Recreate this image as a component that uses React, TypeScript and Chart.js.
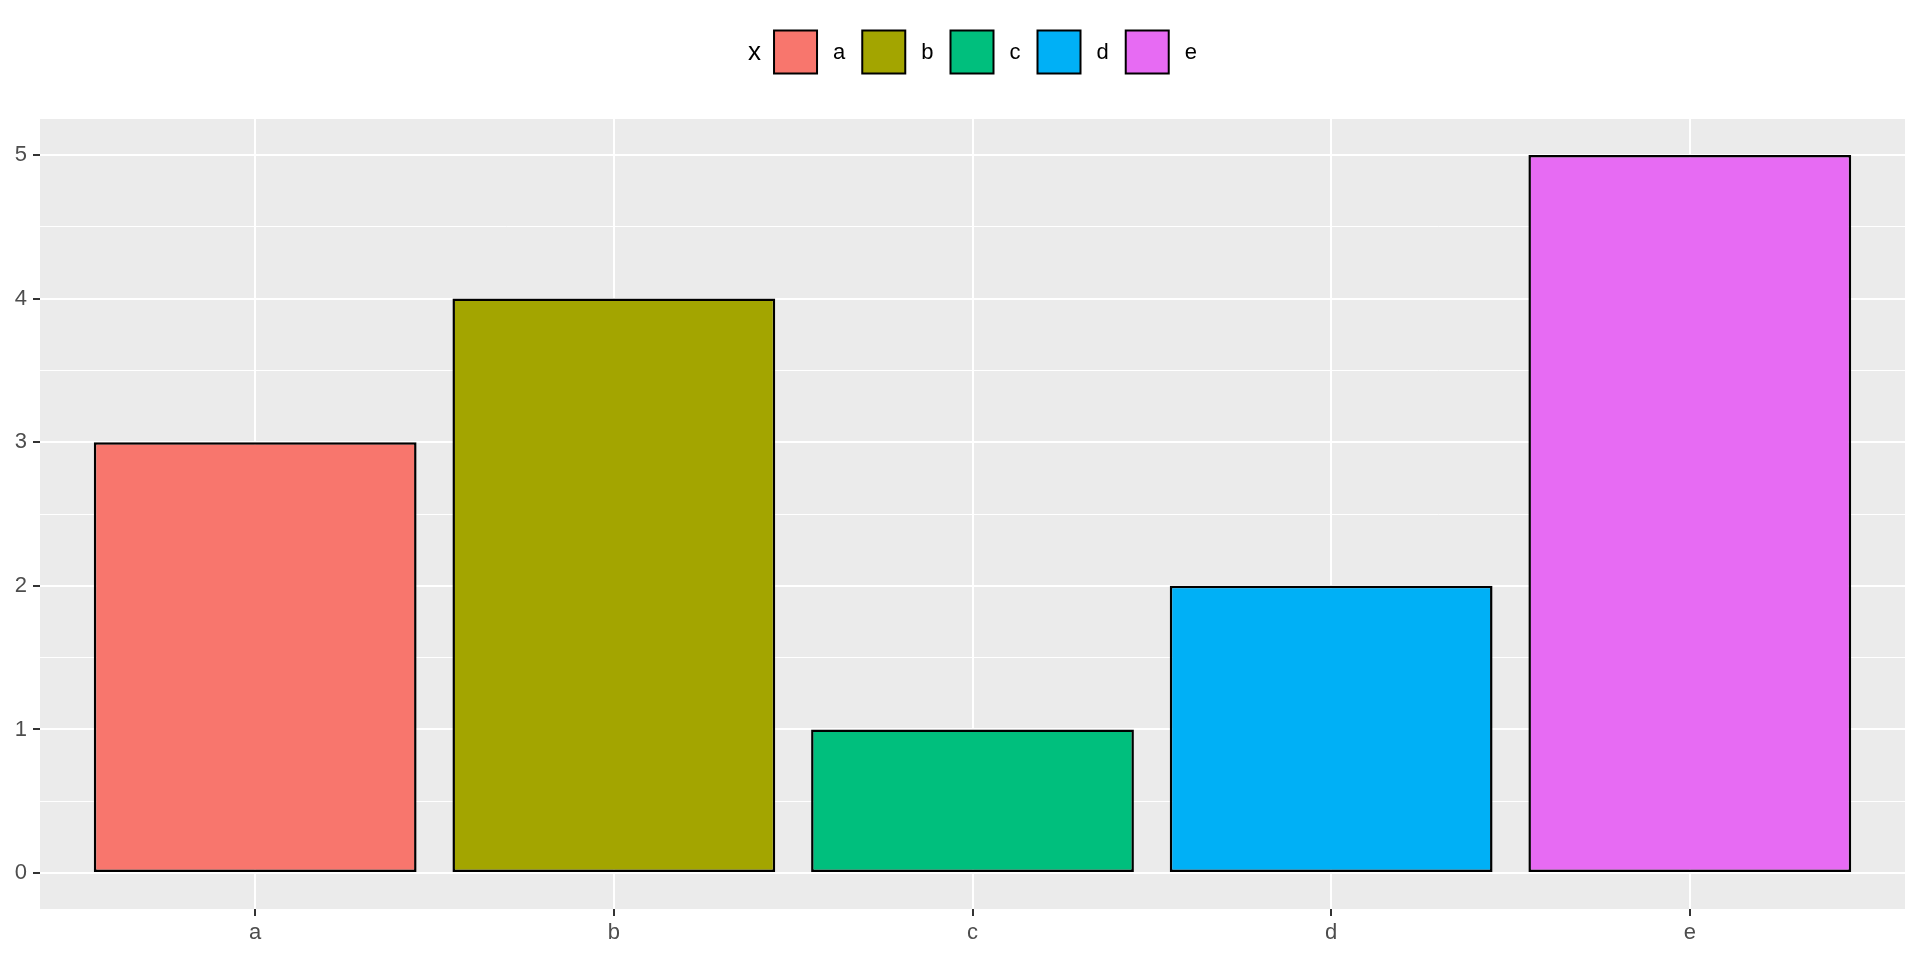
import React, { useEffect, useRef } from "react";
import { Chart, registerables } from "chart.js";

Chart.register(...registerables);

const categories = ["a", "b", "c", "d", "e"];
const values = [3, 4, 1, 2, 5];
const barColors = ["#F8766D", "#A3A500", "#00BF7D", "#00B0F6", "#E76BF3"];
const xTickPositions = [1, 2, 3, 4, 5];
const yMajorTicks = [0, 1, 2, 3, 4, 5];
const yMinorTicks = [0.5, 1.5, 2.5, 3.5, 4.5];
const legendTitle = "x";

const FONT = "'Liberation Sans', Arial, sans-serif";

const panelBg = {
  id: "panelBg",
  beforeDraw(chart: any) {
    const { ctx, chartArea } = chart;
    ctx.save();
    ctx.fillStyle = "#EBEBEB";
    ctx.fillRect(chartArea.left, chartArea.top, chartArea.right - chartArea.left, chartArea.bottom - chartArea.top);
    ctx.restore();
  },
};

const ggLegend = {
  id: "ggLegend",
  afterDraw(chart: any) {
    const { ctx, chartArea } = chart;
    const ds = chart.data.datasets[0];
    const labels = chart.data.labels as string[];
    const box = 43;
    const gapTitle = 13;
    const gapLabel = 16;
    const gapItem = 17;
    ctx.save();
    ctx.font = `26px ${FONT}`;
    const titleW = ctx.measureText(legendTitle).width;
    ctx.font = `22px ${FONT}`;
    const labelWs = labels.map((l) => ctx.measureText(l).width);
    let total = titleW + gapTitle;
    labelWs.forEach((w, i) => {
      total += box + gapLabel + w + (i < labelWs.length - 1 ? gapItem : 0);
    });
    const cx = (chartArea.left + chartArea.right) / 2;
    let x = cx - total / 2;
    const cy = 52;
    ctx.textBaseline = "middle";
    ctx.textAlign = "left";
    ctx.fillStyle = "#000000";
    ctx.font = `26px ${FONT}`;
    ctx.fillText(legendTitle, x, cy + 1);
    x += titleW + gapTitle;
    ctx.font = `22px ${FONT}`;
    labels.forEach((l, i) => {
      ctx.fillStyle = ds.backgroundColor[i];
      ctx.fillRect(x, cy - box / 2, box, box);
      ctx.strokeStyle = "#000000";
      ctx.lineWidth = 2;
      ctx.strokeRect(x, cy - box / 2, box, box);
      x += box + gapLabel;
      ctx.fillStyle = "#000000";
      ctx.fillText(l, x, cy + 1);
      x += labelWs[i] + gapItem;
    });
    ctx.restore();
  },
};

export default function App() {
  const ref = useRef<HTMLCanvasElement | null>(null);
  useEffect(() => {
    if (!ref.current) return;
    const chart = new Chart(ref.current, {
      type: "bar",
      data: {
        labels: categories,
        datasets: [
          {
            label: legendTitle,
            data: values.map((v, i) => ({ x: xTickPositions[i], y: v })) as any,
            backgroundColor: barColors,
            borderColor: "#000000",
            borderWidth: 2.5,
            borderSkipped: false,
            categoryPercentage: 1,
            barPercentage: 0.9,
          },
        ],
      },
      options: {
        animation: false,
        responsive: false,
        maintainAspectRatio: false,
        layout: { padding: { top: 119, right: 15, left: 0, bottom: 0 } },
        plugins: { legend: { display: false }, tooltip: { enabled: false } },
        scales: {
          x: {
            type: "linear",
            offset: false,
            min: 0.4,
            max: 5.6,
            afterBuildTicks: (scale: any) => {
              scale.ticks = xTickPositions.map((v) => ({ value: v }));
            },
            afterFit: (scale: any) => {
              scale.height = 51;
            },
            ticks: {
              autoSkip: false,
              maxRotation: 0,
              padding: 4,
              color: "#4D4D4D",
              font: { family: FONT, size: 22 },
              callback: (v: any) => categories[Math.round(v) - 1] ?? "",
            },
            grid: {
              offset: false,
              color: "#FFFFFF",
              lineWidth: 2,
              tickColor: "#333333",
              tickLength: 7,
              tickWidth: 2,
            },
            border: { display: false },
          },
          y: {
            type: "linear",
            min: -0.25,
            max: 5.25,
            afterBuildTicks: (scale: any) => {
              scale.ticks = [...yMajorTicks, ...yMinorTicks]
                .sort((a, b) => a - b)
                .map((v) => ({ value: v }));
            },
            afterFit: (scale: any) => {
              scale.width = 40;
            },
            ticks: {
              autoSkip: false,
              padding: 6,
              color: "#4D4D4D",
              font: { family: FONT, size: 22 },
              callback: (v: any) => (yMajorTicks.includes(v) ? String(v) : ""),
            },
            grid: {
              color: "#FFFFFF",
              lineWidth: (c: any) => (yMajorTicks.includes(c.tick?.value) ? 2 : 1),
              tickColor: (c: any) => (yMajorTicks.includes(c.tick?.value) ? "#333333" : "rgba(0,0,0,0)"),
              tickLength: 7,
              tickWidth: 2,
            },
            border: { display: false },
          },
        },
      },
      plugins: [panelBg, ggLegend],
    });
    return () => chart.destroy();
  }, []);
  return (
    <div style={{ position: "fixed", left: 0, top: 0, width: 1920, height: 960, background: "#FFFFFF" }}>
      <canvas ref={ref} width={1920} height={960} style={{ width: 1920, height: 960, display: "block" }} />
    </div>
  );
}
